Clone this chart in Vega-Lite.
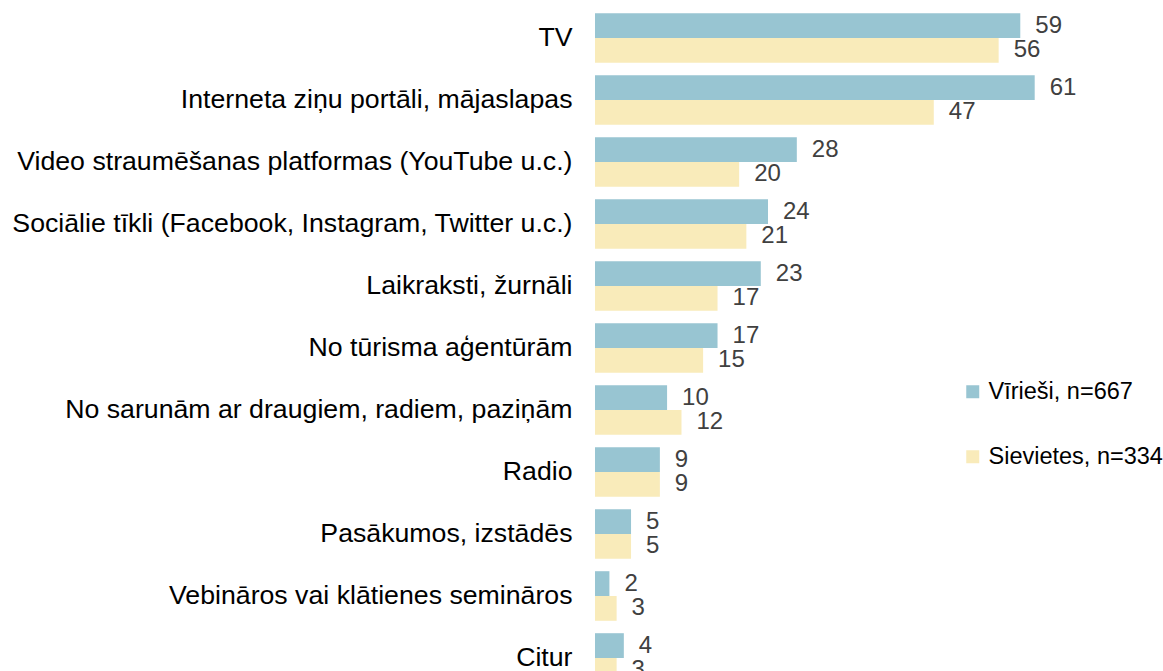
{
  "$schema": "https://vega.github.io/schema/vega-lite/v6.json",
  "autosize": {"type": "none"},
  "padding": {"left": 595, "top": 7, "right": 0, "bottom": 0},
  "width": 568,
  "height": 682,
  "background": "white",
  "config": {
    "view": {"stroke": null},
    "font": "Liberation Sans"
  },
  "data": {
    "values": [
      {"kategorija": "TV", "grupa": "Vīrieši, n=667", "vertiba": 59},
      {"kategorija": "TV", "grupa": "Sievietes, n=334", "vertiba": 56},
      {"kategorija": "Interneta ziņu portāli, mājaslapas", "grupa": "Vīrieši, n=667", "vertiba": 61},
      {"kategorija": "Interneta ziņu portāli, mājaslapas", "grupa": "Sievietes, n=334", "vertiba": 47},
      {"kategorija": "Video straumēšanas platformas (YouTube u.c.)", "grupa": "Vīrieši, n=667", "vertiba": 28},
      {"kategorija": "Video straumēšanas platformas (YouTube u.c.)", "grupa": "Sievietes, n=334", "vertiba": 20},
      {"kategorija": "Sociālie tīkli (Facebook, Instagram, Twitter u.c.)", "grupa": "Vīrieši, n=667", "vertiba": 24},
      {"kategorija": "Sociālie tīkli (Facebook, Instagram, Twitter u.c.)", "grupa": "Sievietes, n=334", "vertiba": 21},
      {"kategorija": "Laikraksti, žurnāli", "grupa": "Vīrieši, n=667", "vertiba": 23},
      {"kategorija": "Laikraksti, žurnāli", "grupa": "Sievietes, n=334", "vertiba": 17},
      {"kategorija": "No tūrisma aģentūrām", "grupa": "Vīrieši, n=667", "vertiba": 17},
      {"kategorija": "No tūrisma aģentūrām", "grupa": "Sievietes, n=334", "vertiba": 15},
      {"kategorija": "No sarunām ar draugiem, radiem, paziņām", "grupa": "Vīrieši, n=667", "vertiba": 10},
      {"kategorija": "No sarunām ar draugiem, radiem, paziņām", "grupa": "Sievietes, n=334", "vertiba": 12},
      {"kategorija": "Radio", "grupa": "Vīrieši, n=667", "vertiba": 9},
      {"kategorija": "Radio", "grupa": "Sievietes, n=334", "vertiba": 9},
      {"kategorija": "Pasākumos, izstādēs", "grupa": "Vīrieši, n=667", "vertiba": 5},
      {"kategorija": "Pasākumos, izstādēs", "grupa": "Sievietes, n=334", "vertiba": 5},
      {"kategorija": "Vebināros vai klātienes semināros", "grupa": "Vīrieši, n=667", "vertiba": 2},
      {"kategorija": "Vebināros vai klātienes semināros", "grupa": "Sievietes, n=334", "vertiba": 3},
      {"kategorija": "Citur", "grupa": "Vīrieši, n=667", "vertiba": 4},
      {"kategorija": "Citur", "grupa": "Sievietes, n=334", "vertiba": 3}
    ]
  },
  "encoding": {
    "y": {
      "field": "kategorija",
      "type": "nominal",
      "sort": null,
      "scale": {"paddingInner": 0.2, "paddingOuter": 0.1},
      "axis": {
        "title": null,
        "domain": false,
        "ticks": false,
        "labelFontSize": 26.7,
        "labelColor": "#000000",
        "labelPadding": 23,
        "labelLimit": 700
      }
    },
    "yOffset": {
      "field": "grupa",
      "type": "nominal",
      "sort": ["Vīrieši, n=667", "Sievietes, n=334"]
    },
    "x": {
      "field": "vertiba",
      "type": "quantitative",
      "scale": {"domain": [0, 78.8], "nice": false},
      "axis": null
    }
  },
  "layer": [
    {
      "mark": {"type": "bar"},
      "encoding": {
        "color": {
          "field": "grupa",
          "type": "nominal",
          "sort": ["Vīrieši, n=667", "Sievietes, n=334"],
          "scale": {
            "domain": ["Vīrieši, n=667", "Sievietes, n=334"],
            "range": ["#98C5D2", "#F9EBBA"]
          },
          "legend": {
            "title": null,
            "orient": "none",
            "legendX": 366,
            "legendY": 373,
            "symbolType": "square",
            "symbolSize": 169,
            "symbolStrokeWidth": 0,
            "labelFontSize": 23.5,
            "labelColor": "#000000",
            "labelOffset": 4,
            "labelLimit": 400,
            "rowPadding": 40
          }
        }
      }
    },
    {
      "mark": {
        "type": "text",
        "align": "left",
        "baseline": "middle",
        "dx": 15,
        "fontSize": 24,
        "color": "#404040"
      },
      "encoding": {
        "text": {"field": "vertiba", "type": "quantitative"}
      }
    }
  ]
}
